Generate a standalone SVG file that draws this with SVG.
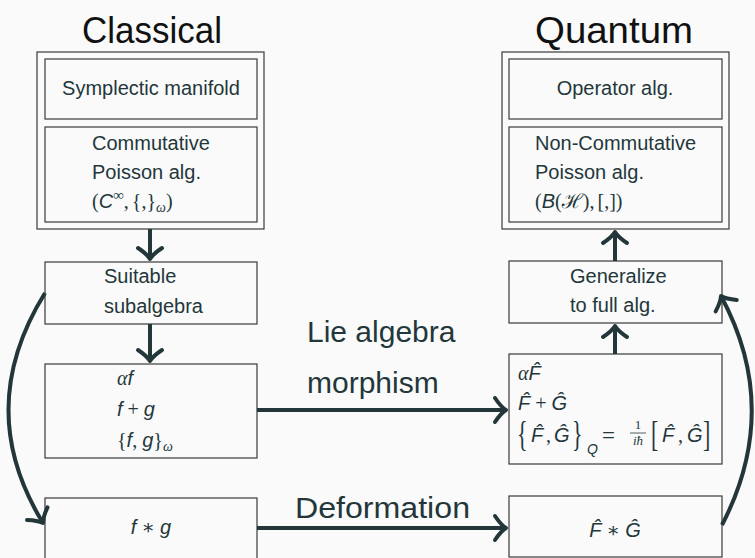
<svg xmlns="http://www.w3.org/2000/svg" width="755" height="558" viewBox="0 0 755 558">
<style>
.bx{fill:none;stroke:#3a3a3a;stroke-width:1.2}
.t{font-family:"Liberation Sans",Arial,sans-serif;font-size:20px;fill:#23373b}
.ttl{font-family:"Liberation Sans",Arial,sans-serif;font-size:37px;fill:#111}
.lbl{font-family:"Liberation Sans",Arial,sans-serif;font-size:30px;fill:#23373b}
.mi{font-style:italic}
.ms{font-family:"Liberation Serif","DejaVu Serif",serif}
.big{font-size:22px}
.sm{font-size:13px}
.sub{font-size:14px}
.eq{font-size:23px}
.conn{fill:none;stroke:#23373b;stroke-width:4;marker-end:url(#ah)}
</style>
<defs>
<marker id="ah" markerUnits="userSpaceOnUse" markerWidth="32" markerHeight="32" viewBox="-16 -16 32 32" refX="0" refY="0" orient="auto">
<path d="M-11,-12 Q-5,-3 0,0 Q-5,3 -11,12" fill="none" stroke="#23373b" stroke-width="4" stroke-linecap="round" stroke-linejoin="round"/>
</marker>
</defs>
<rect width="755" height="558" fill="#fafafa"/>

<g id="title-classical"><text class="ttl" x="152" y="43" text-anchor="middle" textLength="140" lengthAdjust="spacingAndGlyphs">Classical</text></g>
<g id="title-quantum"><text class="ttl" x="614" y="43" text-anchor="middle" textLength="158" lengthAdjust="spacingAndGlyphs">Quantum</text></g>

<g id="classical-box">
<rect class="bx" x="37" y="52" width="227" height="177"/>
<g id="symplectic">
<rect class="bx" x="45" y="59" width="212" height="60"/>
<text class="t" x="151" y="95" text-anchor="middle">Symplectic manifold</text>
</g>
<g id="commutative">
<rect class="bx" x="45" y="127" width="212" height="95"/>
<text class="t" x="92" y="150">Commutative</text>
<text class="t" x="92" y="179">Poisson alg.</text>
<text class="t" x="92" y="208"><tspan class="ms">(</tspan><tspan class="mi">C</tspan><tspan class="ms" font-size="15" dy="-8">∞</tspan><tspan class="ms" dy="8">,</tspan><tspan class="ms" dx="3">{,}</tspan><tspan class="ms mi" font-size="14" dy="4">ω</tspan><tspan class="ms" dy="-4">)</tspan></text>
</g>
</g>

<g id="quantum-box">
<rect class="bx" x="502" y="52" width="227" height="177"/>
<g id="operator">
<rect class="bx" x="509" y="59" width="213" height="60"/>
<text class="t" x="615" y="95" text-anchor="middle">Operator alg.</text>
</g>
<g id="noncommutative">
<rect class="bx" x="509" y="127" width="213" height="95"/>
<text class="t" x="535" y="150">Non-Commutative</text>
<text class="t" x="535" y="179">Poisson alg.</text>
<text class="t" x="535" y="208"><tspan class="ms">(</tspan><tspan class="mi">B</tspan><tspan class="ms">(</tspan><tspan font-family="'DejaVu Serif','Noto Sans',serif" font-style="italic">ℋ</tspan><tspan class="ms">),</tspan><tspan class="ms" dx="3">[,])</tspan></text>
</g>
</g>

<g id="suitable">
<rect class="bx" x="45" y="262" width="212" height="62"/>
<text class="t" x="104" y="283">Suitable</text>
<text class="t" x="104" y="313">subalgebra</text>
</g>

<g id="classical-ops">
<rect class="bx" x="45" y="364" width="212" height="94"/>
<text class="t" x="117" y="385"><tspan class="ms mi">α</tspan><tspan class="mi">f</tspan></text>
<text class="t" x="117" y="416"><tspan class="mi">f</tspan><tspan class="ms"> + </tspan><tspan class="mi">g</tspan></text>
<text class="t" x="117" y="447"><tspan class="ms">{</tspan><tspan class="mi">f</tspan><tspan class="ms">, </tspan><tspan class="mi">g</tspan><tspan class="ms">}</tspan><tspan class="ms mi" font-size="14" dy="4">ω</tspan></text>
</g>

<g id="star-classical">
<rect class="bx" x="45" y="498" width="212" height="66"/>
<text class="t" x="151" y="534" text-anchor="middle"><tspan class="mi">f</tspan><tspan class="ms"> ∗ </tspan><tspan class="mi">g</tspan></text>
</g>

<g id="generalize">
<rect class="bx" x="509" y="261" width="213" height="62"/>
<text class="t" x="570" y="283">Generalize</text>
<text class="t" x="570" y="312">to full alg.</text>
</g>

<g id="quantum-ops">
<rect class="bx" x="509" y="354" width="213" height="110"/>
<text class="t" x="518" y="380"><tspan class="ms mi">α</tspan><tspan class="mi">F̂</tspan></text>
<text class="t" x="518" y="410"><tspan class="mi">F̂</tspan><tspan class="ms"> + </tspan><tspan class="mi">Ĝ</tspan></text>
<text class="t ms big" transform="translate(517,446) scale(1,1.6)">{</text>
<text class="t mi" x="531" y="442">F̂</text>
<text class="t ms" x="546" y="442">,</text>
<text class="t mi" x="554" y="442">Ĝ</text>
<text class="t ms big" transform="translate(572,446) scale(1,1.6)">}</text>
<text class="t mi sub" x="587" y="454">Q</text>
<text class="t ms eq" x="602" y="443">=</text>
<text class="t ms sm" x="638" y="429" text-anchor="middle">1</text>
<line x1="630" y1="433" x2="646" y2="433" stroke="#23373b" stroke-width="0.8"/>
<text class="t ms mi sm" x="638" y="445" text-anchor="middle">iħ</text>
<text class="t ms big" transform="translate(651,446) scale(1,1.6)">[</text>
<text class="t mi" x="662" y="442">F̂</text>
<text class="t ms" x="678" y="442">,</text>
<text class="t mi" x="687" y="442">Ĝ</text>
<text class="t ms big" transform="translate(703,446) scale(1,1.6)">]</text>
</g>

<g id="star-quantum">
<rect class="bx" x="509" y="496" width="213" height="61"/>
<text class="t" x="615" y="537" text-anchor="middle"><tspan class="mi">F̂</tspan><tspan class="ms"> ∗ </tspan><tspan class="mi">Ĝ</tspan></text>
</g>

<g id="edge-labels">
<text class="lbl" x="307" y="342">Lie algebra</text>
<text class="lbl" x="307" y="393">morphism</text>
<text class="lbl" x="295" y="518" textLength="175" lengthAdjust="spacingAndGlyphs">Deformation</text>
</g>

<g id="connectors">
<path class="conn" d="M150,229 L150,259"/>
<path class="conn" d="M150,324 L150,361"/>
<path class="conn" d="M257,410 L506,410"/>
<path class="conn" d="M257,528 L506,528"/>
<path class="conn" d="M615,354 L615,326"/>
<path class="conn" d="M615,261 L615,232"/>
<path class="conn" d="M45,293 Q-27,409 43,523"/>
<path class="conn" d="M722,525 Q782,409 721,296"/>
</g>
</svg>
